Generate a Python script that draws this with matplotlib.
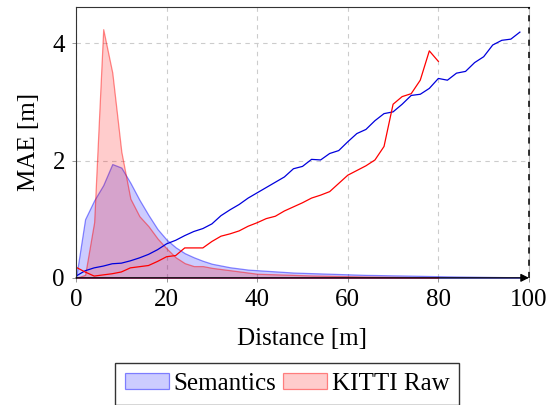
import numpy as np
import matplotlib.pyplot as plt

plt.rcParams['font.family'] = 'serif'
plt.rcParams['font.serif'] = ['Liberation Serif', 'Times New Roman', 'DejaVu Serif']

# MAE lines (every 2 m)
sem_x = np.arange(0, 100, 2)
sem_mae = [0.03, 0.12, 0.17, 0.20, 0.24, 0.25, 0.29, 0.34, 0.40, 0.48,
           0.58, 0.64, 0.72, 0.79, 0.84, 0.92, 1.06, 1.16, 1.25, 1.36,
           1.45, 1.54, 1.63, 1.72, 1.86, 1.90, 2.02, 2.01, 2.12, 2.17,
           2.32, 2.46, 2.53, 2.68, 2.80, 2.83, 2.96, 3.11, 3.13, 3.23,
           3.40, 3.37, 3.49, 3.52, 3.67, 3.77, 3.97, 4.05, 4.07, 4.19]

raw_x = np.arange(0, 82, 2)
raw_mae = [0.18, 0.10, 0.03, 0.05, 0.07, 0.10, 0.17, 0.19, 0.21, 0.28,
           0.36, 0.38, 0.51, 0.51, 0.51, 0.62, 0.71, 0.75, 0.80, 0.88,
           0.94, 1.01, 1.05, 1.14, 1.21, 1.28, 1.36, 1.41, 1.47, 1.61,
           1.75, 1.83, 1.91, 2.01, 2.24, 2.96, 3.09, 3.14, 3.37, 3.87, 3.69]

# distance distributions (filled areas)
sem_dist = [0.0, 1.00, 1.32, 1.58, 1.94, 1.88, 1.62, 1.33, 1.07, 0.83,
            0.65, 0.52, 0.42, 0.35, 0.29, 0.24, 0.21, 0.18, 0.16, 0.14,
            0.13, 0.12, 0.11, 0.10, 0.09, 0.085, 0.08, 0.075, 0.07, 0.065,
            0.06, 0.055, 0.05, 0.048, 0.045, 0.042, 0.04, 0.037, 0.034, 0.031,
            0.028, 0.025, 0.023, 0.021, 0.019, 0.017, 0.015, 0.013, 0.011, 0.01]
raw_dist = [0.0, 0.05, 0.95, 4.24, 3.50, 2.15, 1.35, 1.05, 0.88, 0.67,
            0.50, 0.35, 0.25, 0.20, 0.20, 0.17, 0.15, 0.13, 0.11, 0.09,
            0.07, 0.065, 0.06, 0.055, 0.05, 0.045, 0.04, 0.037, 0.034, 0.031,
            0.028, 0.025, 0.022, 0.02, 0.018, 0.016, 0.014, 0.012, 0.011, 0.01, 0.01]

fig = plt.figure(figsize=(5.51, 4.05), dpi=100)
ax = fig.add_axes([0.138, 0.314, 0.822, 0.669])

ax.fill_between(sem_x, 0, sem_dist, facecolor=(0, 0, 1, 0.2),
                edgecolor=(0, 0, 1, 0.45), lw=0.9, label='Semantics')
ax.fill_between(raw_x, 0, raw_dist, facecolor=(1, 0, 0, 0.2),
                edgecolor=(1, 0, 0, 0.45), lw=0.9, label='KITTI Raw')
ax.plot(sem_x, sem_mae, color='#0000dd', lw=0.9)
ax.plot(raw_x, raw_mae, color='#ff0000', lw=0.9)

ax.set_xlim(0, 100)
ax.set_ylim(0, 4.62)
ax.set_xticks([0, 20, 40, 60, 80, 100])
ax.set_yticks([0, 2, 4])
ax.grid(True, ls=(0, (4, 4)), color='#cccccc', lw=0.8)
ax.set_axisbelow(True)

for s in ['top', 'left']:
    ax.spines[s].set_color('#333333')
    ax.spines[s].set_linewidth(0.8)
ax.spines['right'].set_color('#bbbbbb')
ax.spines['bottom'].set_visible(False)
ax.axvline(100, color='black', ls=(0, (4, 4)), lw=1.1, clip_on=False, zorder=5)
ax.annotate('', xy=(1.0, 0), xytext=(0, 0), xycoords='axes fraction',
            arrowprops=dict(arrowstyle='-|>', color='black', lw=0.9,
                            mutation_scale=12, shrinkA=0, shrinkB=0))

ax.tick_params(direction='out', length=3, width=0.6, color='#888888',
               labelsize=18, pad=5)
ax.set_xlabel('Distance [m]', fontsize=18, labelpad=12)
ax.set_ylabel('MAE [m]', fontsize=18, labelpad=9)

fig.legend(loc='lower center', bbox_to_anchor=(0.521, 0.0), ncol=2,
           fontsize=18, frameon=True, fancybox=False, edgecolor='black',
           handlelength=1.75, handleheight=0.6, handletextpad=0.2,
           columnspacing=0.25, borderpad=0.4, borderaxespad=0.0)

fig.savefig('out.png', dpi=100)
